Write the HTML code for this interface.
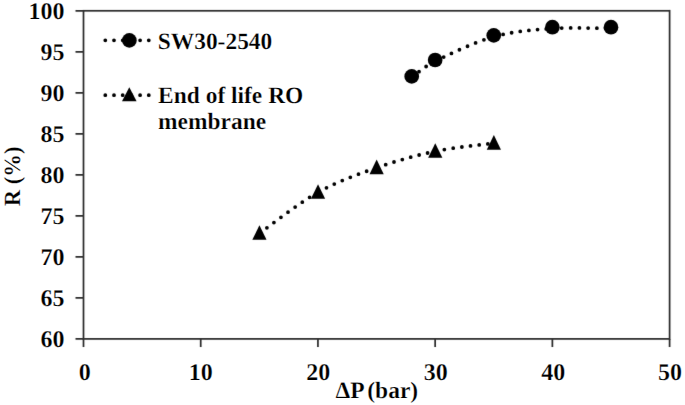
<!DOCTYPE html><html><head><meta charset="utf-8"><title>R vs dP</title><style>html,body{margin:0;padding:0;background:#fff;width:685px;height:405px;overflow:hidden}svg{display:block}</style></head><body>
<div id="w"><svg width="685" height="405" viewBox="0 0 685 405">
<defs><filter id="b" x="-2%" y="-2%" width="104%" height="104%"><feConvolveMatrix order="3" kernelMatrix="0.0052 0.0619 0.0052 0.0619 0.7314 0.0619 0.0052 0.0619 0.0052" edgeMode="none" preserveAlpha="false"/></filter></defs><g filter="url(#b)">
<rect x="83.50" y="10.80" width="586.10" height="328.10" stroke="#2e2e2e" stroke-width="1.75" fill="none"/>
<path d="M75.50,338.90H83.50M75.50,297.89H83.50M75.50,256.87H83.50M75.50,215.86H83.50M75.50,174.85H83.50M75.50,133.84H83.50M75.50,92.82H83.50M75.50,51.81H83.50M75.50,10.80H83.50M83.50,338.90V346.90M200.72,338.90V346.90M317.94,338.90V346.90M435.16,338.90V346.90M552.38,338.90V346.90M669.60,338.90V346.90" stroke="#2e2e2e" stroke-width="1.75" fill="none"/>
<path d="M411.72,77.72 C415.62,74.99 421.48,68.15 435.16,61.31" stroke="#000" stroke-width="3.80" fill="none" stroke-linecap="round" stroke-dasharray="0 8.70" stroke-dashoffset="-0.90"/>
<path d="M435.16,61.31 C448.84,54.48 474.23,42.18 493.77,36.71" stroke="#000" stroke-width="3.80" fill="none" stroke-linecap="round" stroke-dasharray="0 8.70" stroke-dashoffset="-0.90"/>
<path d="M493.77,36.71 C513.31,31.24 532.84,29.87 552.38,28.50" stroke="#000" stroke-width="3.80" fill="none" stroke-linecap="round" stroke-dasharray="0 8.70" stroke-dashoffset="-0.90"/>
<path d="M552.38,28.50 C571.92,27.14 601.22,28.50 610.99,28.50" stroke="#000" stroke-width="3.80" fill="none" stroke-linecap="round" stroke-dasharray="0 8.70" stroke-dashoffset="-0.90"/>
<path d="M259.33,233.37 C269.10,226.53 298.40,203.29 317.94,192.35" stroke="#000" stroke-width="3.80" fill="none" stroke-linecap="round" stroke-dasharray="0 8.70" stroke-dashoffset="-0.90"/>
<path d="M317.94,192.35 C337.48,181.42 357.01,174.58 376.55,167.75" stroke="#000" stroke-width="3.80" fill="none" stroke-linecap="round" stroke-dasharray="0 8.70" stroke-dashoffset="-0.90"/>
<path d="M376.55,167.75 C396.09,160.91 415.62,155.44 435.16,151.34" stroke="#000" stroke-width="3.80" fill="none" stroke-linecap="round" stroke-dasharray="0 8.70" stroke-dashoffset="-0.90"/>
<path d="M435.16,151.34 C454.70,147.24 484.00,144.51 493.77,143.14" stroke="#000" stroke-width="3.80" fill="none" stroke-linecap="round" stroke-dasharray="0 8.70" stroke-dashoffset="-0.90"/>
<circle cx="411.72" cy="76.42" r="7.35"/>
<circle cx="435.16" cy="60.02" r="7.35"/>
<circle cx="493.77" cy="35.41" r="7.35"/>
<circle cx="552.38" cy="27.20" r="7.35"/>
<circle cx="610.99" cy="27.20" r="7.35"/>
<path d="M259.43,225.17 L266.53,239.87 L252.33,239.87 Z"/>
<path d="M318.04,184.16 L325.14,198.85 L310.94,198.85 Z"/>
<path d="M376.65,159.55 L383.75,174.25 L369.55,174.25 Z"/>
<path d="M435.26,143.14 L442.36,157.84 L428.16,157.84 Z"/>
<path d="M493.87,134.94 L500.97,149.64 L486.77,149.64 Z"/>
<path d="M104.4,40.3H150.6" stroke="#000" stroke-width="3.80" fill="none" stroke-linecap="round" stroke-dasharray="0 8.70" stroke-dashoffset="-0.90"/>
<circle cx="129.35" cy="40.4" r="7.35"/>
<path d="M104.4,95.2H150.6" stroke="#000" stroke-width="3.80" fill="none" stroke-linecap="round" stroke-dasharray="0 8.70" stroke-dashoffset="-0.90"/>
<path d="M129.30,87.20 L136.60,101.30 L122.00,101.30 Z"/>
</g>
<g font-family="'Liberation Serif', serif" font-weight="bold" font-size="24" fill="#000" stroke="#fff" stroke-width="0.25" text-rendering="geometricPrecision"><text transform="translate(64.45,346.60)" text-anchor="end">60</text><text transform="translate(64.45,305.59)" text-anchor="end">65</text><text transform="translate(64.45,264.57)" text-anchor="end">70</text><text transform="translate(64.45,223.56)" text-anchor="end">75</text><text transform="translate(64.45,182.55)" text-anchor="end">80</text><text transform="translate(64.45,141.54)" text-anchor="end">85</text><text transform="translate(64.45,100.52)" text-anchor="end">90</text><text transform="translate(64.45,59.51)" text-anchor="end">95</text><text transform="translate(64.45,18.50)" text-anchor="end">100</text><text transform="translate(84.75,380.10)" text-anchor="middle">0</text><text transform="translate(200.65,380.10)" text-anchor="middle">10</text><text transform="translate(318.25,380.10)" text-anchor="middle">20</text><text transform="translate(435.86,380.10)" text-anchor="middle">30</text><text transform="translate(553.19,380.10)" text-anchor="middle">40</text><text transform="translate(670.03,380.10)" text-anchor="middle">50</text><text transform="translate(157.70,49.00)" font-size="23.45">SW30-2540</text><text transform="translate(158.10,102.75)" font-size="23.45">End of life RO</text><text transform="translate(158.10,128.80)" font-size="23.45">membrane</text><text transform="translate(335.40,397.55)" font-size="23.5" word-spacing="-1.8">ΔP (bar)</text><text transform="translate(20.20,206.30) rotate(-90) scale(0.9780,1.0000)" font-size="23.2" stroke-width="0.25">R (%)</text></g>
</svg></div></body></html>
